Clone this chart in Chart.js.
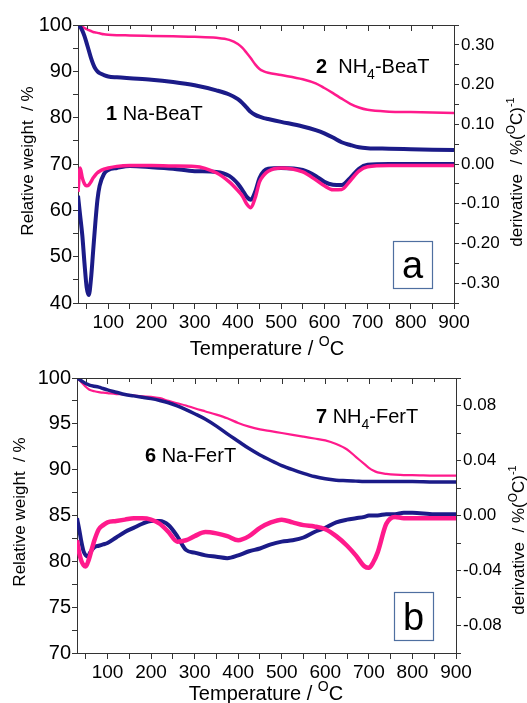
<!DOCTYPE html>
<html>
<head>
<meta charset="utf-8">
<script src="https://cdn.jsdelivr.net/npm/chart.js@4.4.0/dist/chart.umd.min.js"></script>
<style>
  html, body { margin: 0; padding: 0; background: #fff; }
  body { width: 527px; height: 703px; position: relative; overflow: hidden; }
  canvas { position: absolute; left: 0; }
  #chartA { top: 0; }
  #chartB { top: 362px; }
</style>
</head>
<body>
<canvas id="chartA" width="527" height="362"></canvas>
<canvas id="chartB" width="527" height="341"></canvas>
<script>
// TG / DTG curves: (a) Beta samples, (b) Ferrierite samples

// panel a
const tempA = [30, 35, 40, 45, 50, 55, 60, 65, 70, 75,
  80, 90, 100, 120, 150, 200, 250, 300, 350, 380,
  400, 410, 420, 430, 440, 450, 460, 470, 500, 550,
  580, 600, 620, 640, 660, 680, 700, 750, 800, 850, 900]
const weightNaBea = [100, 99.6, 98.8, 97.6, 96.1, 94.5, 92.9, 91.6, 90.6, 90.0,
  89.6, 89.2, 88.9, 88.7, 88.5, 88.2, 87.7, 87.0, 85.9, 85.0,
  84.0, 83.2, 82.2, 81.2, 80.6, 80.2, 79.9, 79.7, 79.1, 78.1,
  77.3, 76.6, 75.7, 74.7, 74.1, 73.6, 73.4, 73.3, 73.2, 73.1, 73.0]
const weightNH4Bea = [100, 99.85, 99.6, 99.35, 99.1, 98.9, 98.7, 98.5, 98.4, 98.3,
  98.2, 98.0, 97.9, 97.8, 97.75, 97.65, 97.55, 97.45, 97.25, 96.8,
  95.9, 95.1, 94.0, 92.8, 91.5, 90.5, 90.0, 89.7, 89.2, 88.3,
  87.4, 86.4, 85.3, 84.1, 83.0, 82.2, 81.7, 81.3, 81.2, 81.1, 81.0]
const derivNaBea = [-0.08, -0.13, -0.18, -0.25, -0.31, -0.33, -0.29, -0.22, -0.15, -0.09,
  -0.055, -0.025, -0.015, -0.01, -0.005, -0.008, -0.012, -0.018, -0.02, -0.03,
  -0.05, -0.065, -0.082, -0.09, -0.07, -0.035, -0.018, -0.012, -0.01, -0.015,
  -0.03, -0.045, -0.052, -0.053, -0.035, -0.012, -0.002, 0, 0, 0, 0]
const derivNH4Bea = [-0.07, -0.01, -0.035, -0.05, -0.055, -0.053, -0.045, -0.035, -0.028, -0.022,
  -0.018, -0.013, -0.01, -0.006, -0.004, -0.004, -0.005, -0.006, -0.022, -0.045,
  -0.067, -0.08, -0.1, -0.11, -0.085, -0.045, -0.028, -0.018, -0.01, -0.02,
  -0.04, -0.055, -0.065, -0.064, -0.042, -0.018, -0.007, -0.004, -0.004, -0.004, -0.004]

// panel b
const tempB = [30, 35, 40, 45, 50, 55, 60, 70, 80, 90,
  100, 120, 140, 160, 180, 200, 220, 240, 260, 280,
  300, 325, 350, 375, 400, 425, 450, 475, 500, 525,
  550, 575, 600, 625, 650, 670, 690, 700, 710, 720,
  740, 760, 780, 800, 850, 900]
const weightNaFer = [100, 99.85, 99.7, 99.55, 99.4, 99.3, 99.2, 99.1, 99.0, 98.85,
  98.7, 98.45, 98.2, 98.05, 97.9, 97.75, 97.55, 97.3, 96.95, 96.55,
  96.1, 95.5, 94.75, 93.9, 93.1, 92.3, 91.6, 91.0, 90.45, 90.0,
  89.6, 89.25, 89.0, 88.85, 88.8, 88.75, 88.7, 88.7, 88.7, 88.7,
  88.7, 88.7, 88.7, 88.7, 88.65, 88.65]
const weightNH4Fer = [100, 99.8, 99.55, 99.3, 99.05, 98.85, 98.7, 98.55, 98.45, 98.4,
  98.35, 98.25, 98.2, 98.1, 98.0, 97.95, 97.8, 97.5, 97.25, 97.0,
  96.7, 96.35, 96.0, 95.6, 95.1, 94.7, 94.4, 94.2, 94.0, 93.8,
  93.6, 93.4, 93.2, 92.8, 92.2, 91.4, 90.6, 90.2, 89.9, 89.7,
  89.55, 89.45, 89.4, 89.4, 89.35, 89.35]
const derivNaFer = [-0.002, -0.01, -0.019, -0.026, -0.029, -0.03, -0.027, -0.023, -0.022, -0.021,
  -0.02, -0.016, -0.012, -0.009, -0.006, -0.004, -0.004, -0.007, -0.015, -0.025,
  -0.027, -0.029, -0.03, -0.031, -0.029, -0.026, -0.024, -0.021, -0.019, -0.018,
  -0.016, -0.012, -0.009, -0.005, -0.003, -0.002, -0.001, 0, 0, 0,
  0.001, 0.001, 0.002, 0.002, 0.001, 0.001]
const derivNH4Fer = [-0.018, -0.027, -0.033, -0.036, -0.037, -0.034, -0.029, -0.018, -0.01, -0.007,
  -0.005, -0.004, -0.003, -0.002, -0.002, -0.003, -0.006, -0.012, -0.019, -0.018,
  -0.015, -0.012, -0.013, -0.015, -0.018, -0.015, -0.009, -0.005, -0.003, -0.005,
  -0.007, -0.008, -0.01, -0.015, -0.022, -0.029, -0.037, -0.038, -0.034, -0.027,
  -0.006, -0.001, -0.002, -0.002, -0.002, -0.002]

// ticks
const tempTicks = [50, 100, 150, 200, 250, 300, 350, 400, 450, 500, 550, 600, 650, 700, 750, 800, 850, 900]
const weightTicksA = [40, 45, 50, 55, 60, 65, 70, 75, 80, 85, 90, 95, 100]
const derivTicksA = [-0.35, -0.3, -0.25, -0.2, -0.15, -0.1, -0.05, 0, 0.05, 0.1, 0.15, 0.2, 0.25, 0.3, 0.35]
const weightTicksB = [70, 72.5, 75, 77.5, 80, 82.5, 85, 87.5, 90, 92.5, 95, 97.5, 100]
const derivTicksB = [-0.1, -0.08, -0.06, -0.04, -0.02, 0, 0.02, 0.04, 0.06, 0.08, 0.1]

const FONT = "'Liberation Sans', Arial, sans-serif"
const navy = '#1b1b88'
const pink = '#ff1a8c'
const axisColor = '#333'

function pts(xs, ys) {
  return xs.map((x, i) => ({ x: x, y: ys[i] }))
}

function setTicks(values) {
  return function (axis) {
    axis.ticks = values.map(v => ({ value: v }))
  }
}

// pieces: [text, size, bold, dy]
function drawPieces(ctx, pieces, x, y, align) {
  const fontOf = p => (p[2] ? 'bold ' : '') + p[1] + 'px ' + FONT
  const widths = pieces.map(p => {
    ctx.font = fontOf(p)
    return ctx.measureText(p[0]).width
  })
  const total = widths.reduce((a, b) => a + b, 0)
  let cx = align === 'center' ? x - total / 2 : x
  ctx.textAlign = 'left'
  ctx.textBaseline = 'alphabetic'
  pieces.forEach((p, i) => {
    ctx.font = fontOf(p)
    ctx.fillText(p[0], cx, y + (p[3] || 0))
    cx += widths[i]
  })
}

const decorations = {
  id: 'decorations',
  afterDraw(chart, args, o) {
    const ctx = chart.ctx
    const area = chart.chartArea
    const xs = chart.scales.x
    ctx.save()
    // top frame line with inward ticks
    ctx.strokeStyle = axisColor
    ctx.lineWidth = 1
    ctx.beginPath()
    ctx.moveTo(area.left, area.top + 0.5)
    ctx.lineTo(area.right, area.top + 0.5)
    xs.ticks.forEach(t => {
      const px = Math.round(xs.getPixelForValue(t.value)) + 0.5
      ctx.moveTo(px, area.top)
      ctx.lineTo(px, area.top + (t.value % 100 === 0 ? 6 : 4))
    })
    ctx.stroke()

    ctx.fillStyle = '#000'
    o.labels.forEach(l => drawPieces(ctx, l.pieces, l.x, l.y, 'left'))

    // axis titles
    drawPieces(ctx, o.titleX.pieces, o.titleX.x, o.titleX.y, 'center')
    ;[o.titleY, o.titleY2].forEach(t => {
      ctx.save()
      ctx.translate(t.x, t.y)
      ctx.rotate(-Math.PI / 2)
      drawPieces(ctx, t.pieces, 0, 0, 'center')
      ctx.restore()
    })

    // panel letter box
    const b = o.box
    ctx.strokeStyle = '#4f6fa0'
    ctx.lineWidth = 1.2
    ctx.strokeRect(b.x + 0.5, b.y + 0.5, b.w, b.h)
    ctx.font = '38px ' + FONT
    ctx.textAlign = 'center'
    ctx.textBaseline = 'alphabetic'
    ctx.fillText(b.text, b.x + b.w / 2, b.base)
    ctx.restore()
  }
}

function makePanel(id, p) {
  const tickFont = size => ({ family: FONT, size: size })
  return new Chart(document.getElementById(id), {
    type: 'line',
    data: { datasets: p.datasets },
    options: {
      responsive: false,
      animation: false,
      events: [],
      layout: { padding: { top: p.top, left: 0, right: 0, bottom: 0 } },
      elements: {
        point: { radius: 0 },
        line: { cubicInterpolationMode: 'monotone' },
      },
      plugins: {
        legend: { display: false },
        tooltip: { enabled: false },
        decorations: p.deco,
      },
      scales: {
        x: {
          type: 'linear',
          position: 'bottom',
          min: 30,
          max: 900,
          afterBuildTicks: setTicks(tempTicks),
          afterFit: s => { s.height = p.xHeight },
          grid: { drawOnChartArea: false, tickLength: 6, color: axisColor },
          border: { color: axisColor },
          ticks: {
            font: tickFont(19),
            color: '#000',
            padding: 2,
            maxRotation: 0,
            autoSkip: false,
            callback: v => (v % 100 === 0 ? v : ''),
          },
        },
        y: {
          type: 'linear',
          position: 'left',
          min: p.wMin,
          max: 100,
          afterBuildTicks: setTicks(p.wTicks),
          afterFit: s => { s.width = p.left },
          grid: { drawOnChartArea: false, tickLength: 5, color: axisColor },
          border: { color: axisColor },
          ticks: {
            font: tickFont(20),
            color: '#000',
            padding: 1,
            autoSkip: false,
            callback: v => (v % p.wLabelStep === 0 ? v : ''),
          },
        },
        y2: {
          type: 'linear',
          position: 'right',
          min: p.dMin,
          max: p.dMax,
          afterBuildTicks: setTicks(p.dTicks),
          afterFit: s => { s.width = p.right },
          grid: { drawOnChartArea: false, tickLength: 5, color: axisColor },
          border: { color: axisColor },
          ticks: {
            font: tickFont(17),
            color: '#000',
            padding: 2,
            autoSkip: false,
            callback: p.dLabel,
          },
        },
      },
    },
    plugins: [decorations],
  })
}

makePanel('chartA', {
  top: 25,
  xHeight: 362 - 303,
  left: 78,
  right: 527 - 454,
  wMin: 40,
  wTicks: weightTicksA,
  wLabelStep: 10,
  dMin: -0.35,
  dMax: 0.35,
  dTicks: derivTicksA,
  dLabel: v => (Math.round(v * 100) % 10 === 0 ? v.toFixed(2) : ''),
  datasets: [
    { data: pts(tempA, weightNaBea), borderColor: navy, borderWidth: 4, yAxisID: 'y' },
    { data: pts(tempA, weightNH4Bea), borderColor: pink, borderWidth: 2.5, yAxisID: 'y' },
    { data: pts(tempA, derivNH4Bea), borderColor: pink, borderWidth: 3.5, yAxisID: 'y2' },
    { data: pts(tempA, derivNaBea), borderColor: navy, borderWidth: 4, yAxisID: 'y2' },
  ],
  deco: {
    labels: [
      { x: 106, y: 120, pieces: [['1', 20, true], [' Na-BeaT', 20]] },
      { x: 316, y: 73, pieces: [['2', 20, true], ['  NH', 20], ['4', 14, false, 6], ['-BeaT', 20]] },
    ],
    titleX: { x: 267, y: 355, pieces: [['Temperature / ', 20], ['O', 14, false, -9], ['C', 20]] },
    titleY: { x: 33, y: 161, pieces: [['Relative weight  / %', 17]] },
    titleY2: { x: 522, y: 172, pieces: [['derivative  / %(', 17], ['O', 12, false, -7], ['C)', 17], ['-1', 11, false, -8]] },
    box: { x: 393, y: 241, w: 39, h: 47, text: 'a', base: 278 },
  },
})

makePanel('chartB', {
  top: 378 - 362,
  xHeight: 341 - (653 - 362),
  left: 77,
  right: 527 - 456,
  wMin: 70,
  wTicks: weightTicksB,
  wLabelStep: 5,
  dMin: -0.1,
  dMax: 0.1,
  dTicks: derivTicksB,
  dLabel: v => {
    const c = Math.round(v * 100)
    return c % 4 === 0 && Math.abs(c) < 10 ? v.toFixed(2) : ''
  },
  datasets: [
    { data: pts(tempB, weightNaFer), borderColor: navy, borderWidth: 3.5, yAxisID: 'y' },
    { data: pts(tempB, weightNH4Fer), borderColor: pink, borderWidth: 2.2, yAxisID: 'y' },
    { data: pts(tempB, derivNH4Fer), borderColor: pink, borderWidth: 4.5, yAxisID: 'y2' },
    { data: pts(tempB, derivNaFer), borderColor: navy, borderWidth: 4, yAxisID: 'y2' },
  ],
  deco: {
    labels: [
      { x: 145, y: 100, pieces: [['6', 20, true], [' Na-FerT', 20]] },
      { x: 316, y: 61, pieces: [['7', 20, true], [' NH', 20], ['4', 14, false, 6], ['-FerT', 20]] },
    ],
    titleX: { x: 266, y: 338, pieces: [['Temperature / ', 20], ['O', 14, false, -9], ['C', 20]] },
    titleY: { x: 25, y: 150, pieces: [['Relative weight  / %', 17]] },
    titleY2: { x: 524, y: 178, pieces: [['derivative  / %(', 17], ['O', 12, false, -7], ['C)', 17], ['-1', 11, false, -8]] },
    box: { x: 394, y: 230, w: 39, h: 48, text: 'b', base: 268 },
  },
})
</script>
</body>
</html>
